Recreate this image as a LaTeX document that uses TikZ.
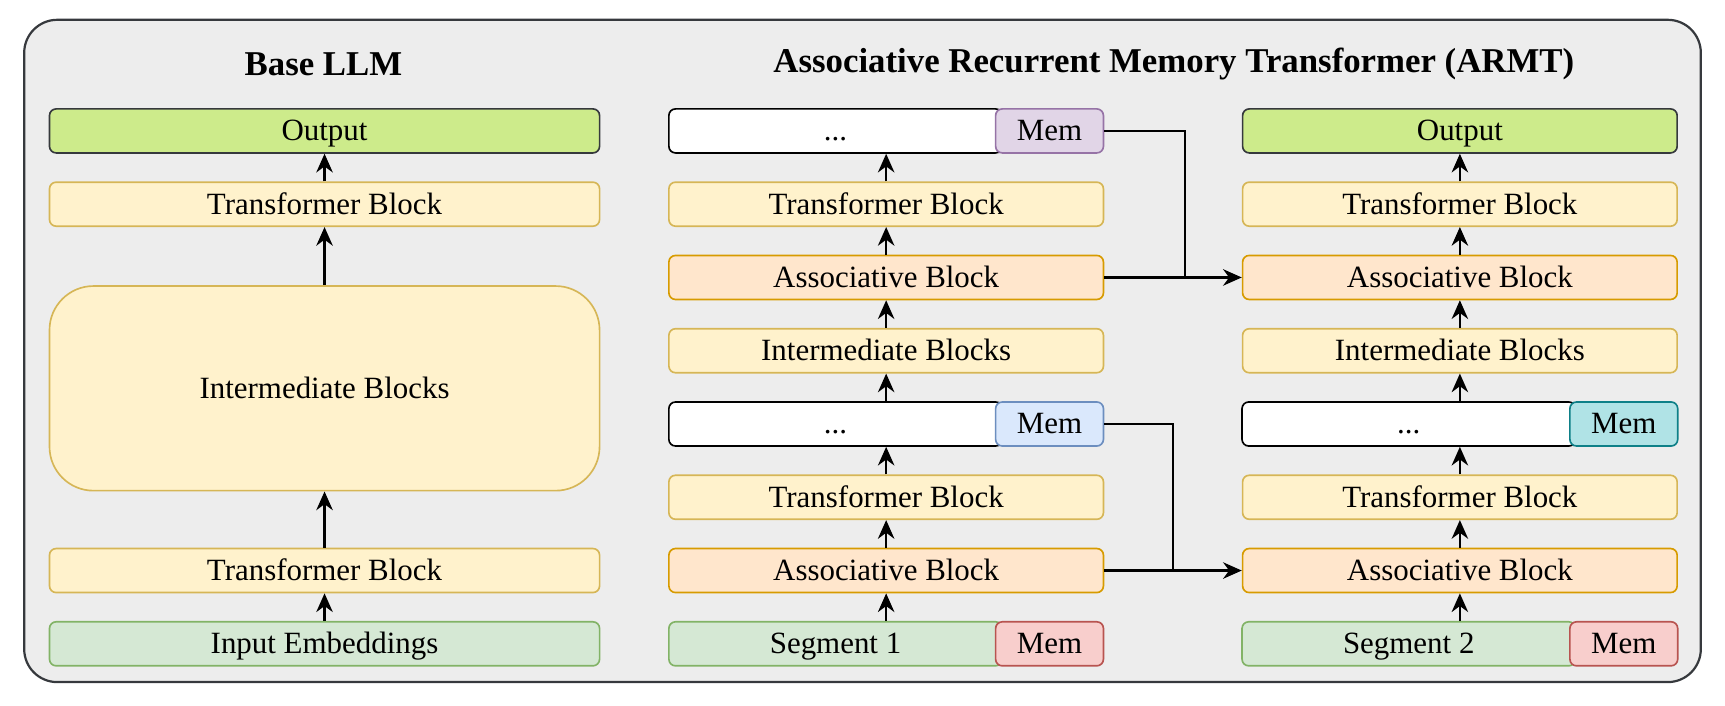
\documentclass[tikz,border=0pt]{standalone}
\usepackage{fontspec}
\setmainfont{Liberation Serif}
\usetikzlibrary{arrows.meta}

\definecolor{bgfill}{HTML}{EDEDED}
\definecolor{bgline}{HTML}{36393D}
\definecolor{outfill}{HTML}{CDEB8B}
\definecolor{yelfill}{HTML}{FFF2CC}
\definecolor{yelline}{HTML}{D6B656}
\definecolor{orafill}{HTML}{FFE6CC}
\definecolor{oraline}{HTML}{D79B00}
\definecolor{grnfill}{HTML}{D5E8D4}
\definecolor{grnline}{HTML}{82B366}
\definecolor{redfill}{HTML}{F8CECC}
\definecolor{redline}{HTML}{B85450}
\definecolor{purfill}{HTML}{E1D5E7}
\definecolor{purline}{HTML}{9673A6}
\definecolor{blufill}{HTML}{DAE8FC}
\definecolor{bluline}{HTML}{6C8EBF}
\definecolor{teafill}{HTML}{B0E3E6}
\definecolor{tealine}{HTML}{0E8088}

\begin{document}
\begin{tikzpicture}[x=0.2mm,y=-0.2mm,
	blk/.style={draw, rounded corners=1.2mm, line width=0.3mm, minimum height=8mm, inner sep=0pt, text height=4.2mm, text depth=0.6mm, font=\fontsize{16}{19}\selectfont},
	wide/.style={blk, minimum width=100mm},
	full/.style={blk, minimum width=79mm},
	dots/.style={blk, minimum width=60.6mm, fill=white, draw=black},
	mem/.style={blk, minimum width=19.6mm},
	outbox/.style={fill=outfill, draw=bgline},
	tblock/.style={fill=yelfill, draw=yelline},
	ablock/.style={fill=orafill, draw=oraline},
	inbox/.style={fill=grnfill, draw=grnline},
	arr/.style={-{Stealth[length=3.4mm,width=3mm,inset=1.1mm]}, line width=0.38mm},
	ttl/.style={font=\bfseries\fontsize{18}{22}\selectfont}]
	\useasboundingbox (0,0) rectangle (1568,641);
	\draw[fill=bgfill, draw=bgline, line width=0.4mm, rounded corners=6mm] (22,18) rectangle (1546,620);

	\node[ttl] (tBase) at (294,58) {Base LLM};
	\node[ttl] (tArmt) at (1067,58) {Associative Recurrent Memory Transformer (ARMT)};

	% base llm
	\node[wide, outbox] (lOut) at (295,119) {Output};
	\node[wide, tblock] (lTb2) at (295,185.6) {Transformer Block};
	\node[wide, tblock, minimum height=37.2mm, rounded corners=8mm] (lInt) at (295,353) {Intermediate Blocks};
	\node[wide, tblock] (lTb1) at (295,518.6) {Transformer Block};
	\node[wide, inbox] (lEmb) at (295,585.2) {Input Embeddings};

	% armt, first segment
	\coordinate (mAxis) at (805.5,0);
	\node[dots] (mDot2) at (759.5,119) {...};
	\node[mem, fill=purfill, draw=purline] (mMem2) at (954,119) {Mem};
	\node[full, tblock] (mTb2) at (805.5,185.6) {Transformer Block};
	\node[full, ablock] (mAs2) at (805.5,252.2) {Associative Block};
	\node[full, tblock] (mInt) at (805.5,318.8) {Intermediate Blocks};
	\node[dots] (mDot1) at (759.5,385.4) {...};
	\node[mem, fill=blufill, draw=bluline] (mMem1) at (954,385.4) {Mem};
	\node[full, tblock] (mTb1) at (805.5,452) {Transformer Block};
	\node[full, ablock] (mAs1) at (805.5,518.6) {Associative Block};
	\node[dots, inbox] (mSeg) at (759.5,585.2) {Segment 1};
	\node[mem, fill=redfill, draw=redline] (mMemIn) at (954,585.2) {Mem};

	% armt, second segment
	\coordinate (rAxis) at (1327,0);
	\node[full, outbox] (rOut) at (1327,119) {Output};
	\node[full, tblock] (rTb2) at (1327,185.6) {Transformer Block};
	\node[full, ablock] (rAs2) at (1327,252.2) {Associative Block};
	\node[full, tblock] (rInt) at (1327,318.8) {Intermediate Blocks};
	\node[dots] (rDot) at (1280.5,385.4) {...};
	\node[mem, fill=teafill, draw=tealine] (rMem) at (1476,385.4) {Mem};
	\node[full, tblock] (rTb1) at (1327,452) {Transformer Block};
	\node[full, ablock] (rAs1) at (1327,518.6) {Associative Block};
	\node[dots, inbox] (rSeg) at (1280.5,585.2) {Segment 2};
	\node[mem, fill=redfill, draw=redline] (rMemIn) at (1476,585.2) {Mem};

	\foreach \a/\b in {lEmb/lTb1, lTb1/lInt, lInt/lTb2, lTb2/lOut}
		\draw[arr] (\a.north) -- (\b.south);
	\foreach \a/\b in {mSeg/mAs1, mAs1/mTb1, mTb1/mDot1, mDot1/mInt, mInt/mAs2, mAs2/mTb2, mTb2/mDot2}
		\draw[arr] (mAxis |- \a.north) -- (mAxis |- \b.south);
	\foreach \a/\b in {rSeg/rAs1, rAs1/rTb1, rTb1/rDot, rDot/rInt, rInt/rAs2, rAs2/rTb2, rTb2/rOut}
		\draw[arr] (rAxis |- \a.north) -- (rAxis |- \b.south);

	% memory passed on
	\coordinate (jTop) at (1077,252.2);
	\coordinate (jBot) at (1066,518.6);
	\draw[line width=0.38mm] (mMem2.east) -| (jTop);
	\draw[arr] (mAs2.east) -- (rAs2.west);
	\draw[line width=0.38mm] (mMem1.east) -| (jBot);
	\draw[arr] (mAs1.east) -- (rAs1.west);
\end{tikzpicture}
\end{document}
